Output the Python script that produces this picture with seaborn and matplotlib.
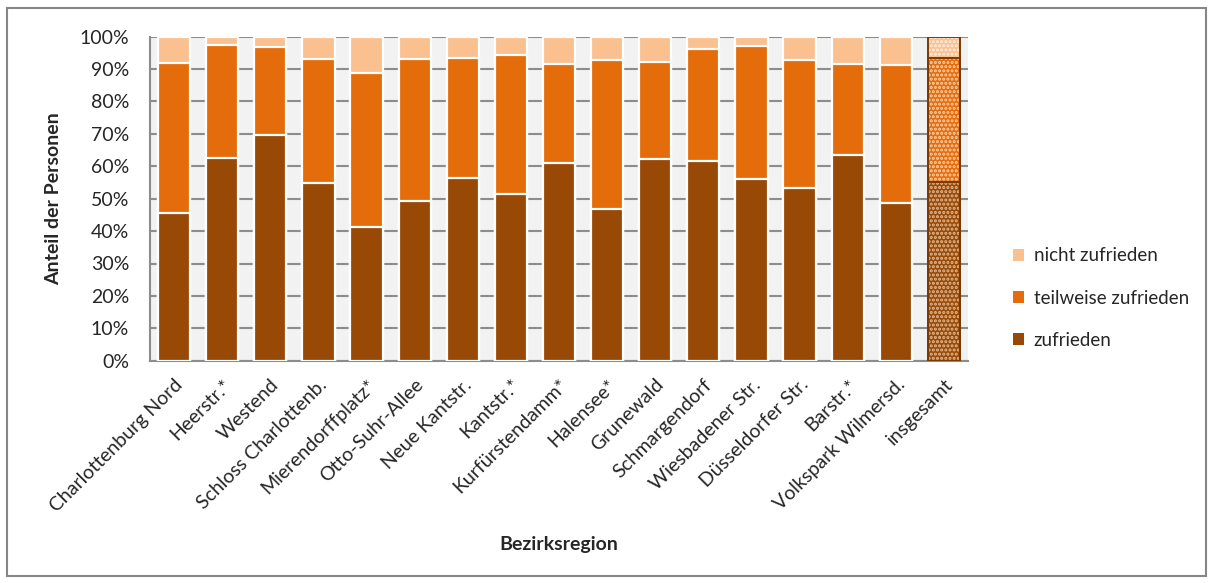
import matplotlib
matplotlib.use("Agg")
import matplotlib.pyplot as plt
import matplotlib.patches as mpatches
from matplotlib.ticker import PercentFormatter, MultipleLocator, FixedLocator
import seaborn as sns

regions = ["Charlottenburg Nord", "Heerstr.*", "Westend", "Schloss Charlottenb.",
           "Mierendorffplatz*", "Otto-Suhr-Allee", "Neue Kantstr.", "Kantstr.*",
           "Kurfürstendamm*", "Halensee*", "Grunewald", "Schmargendorf",
           "Wiesbadener Str.", "Düsseldorfer Str.", "Barstr.*", "Volkspark Wilmersd.",
           "insgesamt"]
zufrieden = [45.5, 62.5, 69.7, 54.9, 41.2, 49.4, 56.5, 51.5, 61.1, 46.9, 62.3, 61.6,
             56.0, 53.3, 63.4, 48.6, 55.2]
teilweise = [46.3, 35.0, 27.0, 38.2, 47.5, 43.7, 36.8, 42.9, 30.6, 46.0, 29.9, 34.7,
             41.1, 39.5, 28.3, 42.8, 38.3]
nicht = [8.2, 2.5, 3.3, 6.9, 11.3, 6.9, 6.7, 5.6, 8.3, 7.1, 7.8, 3.7, 2.9, 7.2, 8.3,
         8.6, 6.5]
series_names = ["zufrieden", "teilweise zufrieden", "nicht zufrieden"]
colors = ["#994906", "#E46C0A", "#FAC090"]
hatch_colors = ["#E2BC98", "#FAD2AE", "#FFF0E2"]

sns.set_style("white")
plt.rcParams["font.family"] = ["Lato", "DejaVu Sans"]
plt.rcParams["hatch.linewidth"] = 1.5

fig = plt.figure(figsize=(12.13, 5.83), dpi=100)
ax = fig.add_axes([150 / 1213, 1 - 360.7 / 583, 818 / 1213, 324 / 583])
ax.set_facecolor("#F2F2F2")

# cumulative stacks
cum_t = [z + t for z, t in zip(zufrieden, teilweise)]
cum_n = [c + n for c, n in zip(cum_t, nicht)]
layers = [cum_n, cum_t, zufrieden]
layer_colors = [colors[2], colors[1], colors[0]]
layer_hatch = [hatch_colors[2], hatch_colors[1], hatch_colors[0]]

n = len(regions)
for vals, col, hc in zip(layers, layer_colors, layer_hatch):
    before = len(ax.patches)
    sns.barplot(x=regions, y=vals, color=col, saturation=1, width=0.67,
                edgecolor="white", linewidth=1.6, ax=ax, zorder=3)
    new = ax.patches[before:]
    last = new[-1]
    last.set_hatch("....")
    last.set_edgecolor(hc)
    last.set_linewidth(0)
    outline = mpatches.Rectangle((last.get_x(), last.get_y()), last.get_width(),
                                 last.get_height(), fill=False, edgecolor="#7A3A05",
                                 linewidth=1.4, zorder=4)
    ax.add_patch(outline)

ax.set_ylim(0, 100)
ax.set_xlim(-0.5, n - 0.5)
ax.yaxis.set_major_locator(MultipleLocator(10))
ax.yaxis.set_major_formatter(PercentFormatter(decimals=0))
ax.grid(axis="y", color="#8C8C8C", linewidth=1.5, zorder=1)
ax.set_axisbelow(True)
for s in ["top", "right"]:
    ax.spines[s].set_visible(False)
for s in ["left", "bottom"]:
    ax.spines[s].set_color("#8C8C8C")
    ax.spines[s].set_linewidth(1.5)

ax.set_xticks(range(n))
ax.set_xticklabels(regions, rotation=45, ha="right", rotation_mode="anchor",
                   fontsize=14)
ax.tick_params(axis="x", which="major", length=0, pad=11)
ax.xaxis.set_minor_locator(FixedLocator([i - 0.5 for i in range(n + 1)]))
ax.tick_params(axis="x", which="minor", length=6, width=1.5, color="#8C8C8C",
               direction="out")
ax.tick_params(axis="y", length=6, width=1.5, color="#8C8C8C", direction="out",
               labelsize=14, pad=9)

ax.set_ylabel("Anteil der Personen", fontsize=14, fontweight="bold")
ax.yaxis.set_label_coords((62 - 150) / 818, 0.5)
ax.set_xlabel("Bezirksregion", fontsize=14, fontweight="bold")
ax.xaxis.set_label_coords((559 - 150) / 818, -(536 - 360.7) / 324)

handles = [mpatches.Patch(facecolor=colors[i], edgecolor="none") for i in [2, 1, 0]]
labels = [series_names[i] for i in [2, 1, 0]]
fig.legend(handles, labels, loc="center left", bbox_to_anchor=(996 / 1213, 1 - 298 / 583),
           frameon=False, fontsize=13.5, handlelength=0.6, handleheight=0.6,
           handletextpad=0.5, labelspacing=1.35)

border = mpatches.Rectangle((7 / 1213, 7 / 583), 1 - 14 / 1213, 1 - 15 / 583,
                            transform=fig.transFigure, fill=False,
                            edgecolor="#868686", linewidth=1.5)
fig.patches.append(border)

fig.savefig("out.png", dpi=100)
